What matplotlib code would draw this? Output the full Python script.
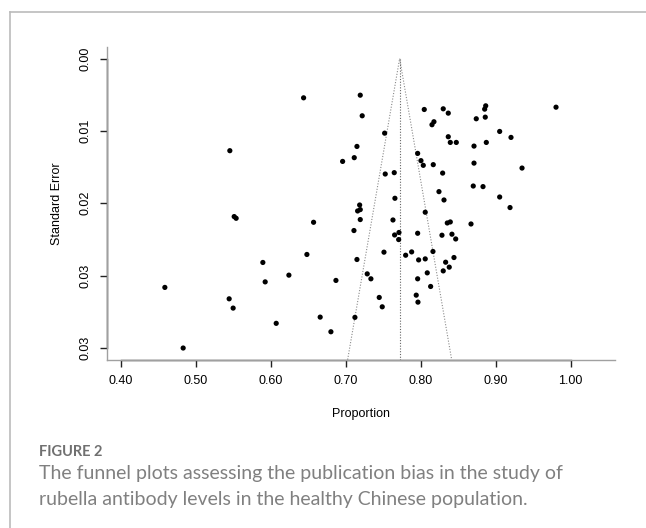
import matplotlib.pyplot as plt
from matplotlib.lines import Line2D

# proportions and standard errors
proportion = [0.644, 0.7195, 0.7221, 0.5457, 0.7151, 0.7115, 0.696, 0.7187,
              0.8048, 0.8301, 0.8368, 0.8867, 0.8853, 0.9804, 0.8177, 0.8151,
              0.8741, 0.8861, 0.752, 0.9053, 0.9204, 0.8368, 0.8395, 0.8475,
              0.8711, 0.8875, 0.796, 0.8004, 0.8035, 0.8168, 0.8711, 0.9351,
              0.7528, 0.7648, 0.8293, 0.8701, 0.8831, 0.8244, 0.7657, 0.8311,
              0.9053, 0.9191,
              0.716, 0.7195, 0.7195, 0.5515, 0.5541, 0.6573, 0.7111, 0.6484,
              0.5897, 0.7151, 0.7288, 0.7337, 0.4591, 0.5928, 0.6244, 0.6871,
              0.5448, 0.5501, 0.6661, 0.7124, 0.6075, 0.6804, 0.4835,
              0.8061, 0.7631, 0.8355, 0.8395, 0.8671, 0.7653, 0.7711, 0.7707,
              0.796, 0.8284, 0.8417, 0.8467, 0.7511, 0.78, 0.788, 0.8164,
              0.7973, 0.8061, 0.8444, 0.8333, 0.8381, 0.8301, 0.8088, 0.796,
              0.8133, 0.7448, 0.7941, 0.7964, 0.7488]
std_err = [0.00461, 0.0043, 0.00672, 0.01082, 0.01032, 0.01164, 0.01208, 0.0172,
           0.00598, 0.0059, 0.00641, 0.00555, 0.00594, 0.00571, 0.00742, 0.00777,
           0.00707, 0.00688, 0.00876, 0.00856, 0.00926, 0.00918, 0.00985, 0.00985,
           0.01028, 0.00985, 0.01114, 0.01199, 0.01254, 0.01246, 0.01228, 0.01286,
           0.01356, 0.0134, 0.01345, 0.01497, 0.01504, 0.01563, 0.01641, 0.01661,
           0.01626, 0.0175,
           0.0179, 0.01774, 0.01891, 0.01856, 0.01876, 0.01923, 0.0202, 0.02301,
           0.02395, 0.0236, 0.02529, 0.02587, 0.02688, 0.02623, 0.02544, 0.02606,
           0.02822, 0.02931, 0.03037, 0.0304, 0.0311, 0.03209, 0.034,
           0.01805, 0.01896, 0.01931, 0.01919, 0.01943, 0.02072, 0.02043, 0.02126,
           0.02052, 0.02075, 0.02063, 0.02119, 0.02274, 0.0231, 0.02271, 0.02266,
           0.02365, 0.02353, 0.02337, 0.02392, 0.0245, 0.02494, 0.02517, 0.02587,
           0.02677, 0.02806, 0.02779, 0.02861, 0.02916]

pooled = 0.772
se_ticks = [0.0, 0.0085, 0.017, 0.0255, 0.034]
se_labels = ["0.00", "0.01", "0.02", "0.03", "0.03"]
x_ticks = [0.4, 0.5, 0.6, 0.7, 0.8, 0.9, 1.0]
x_labels = ["0.40", "0.50", "0.60", "0.70", "0.80", "0.90", "1.00"]

plt.rcParams['font.family'] = ['Liberation Sans', 'DejaVu Sans']

fig = plt.figure(figsize=(6.46, 5.28), dpi=100)
ax = fig.add_axes([107 / 646, 1 - 359.6 / 528, 508 / 646, 312.6 / 528])

ymax = max(std_err)
ylo, yhi = -0.04 * ymax, ymax * 1.04
ax.set_xlim(0.382, 1.059)
ax.set_ylim(yhi, ylo)

# funnel
ax.plot([pooled - 1.96 * yhi, pooled, pooled + 1.96 * yhi], [yhi, 0, yhi],
        color='#8a8a8a', lw=0.8, ls=(0, (1, 1.5)))
ax.plot([pooled, pooled], [0, yhi], color='#666666', lw=0.8, ls=(0, (1, 1.5)))

ax.scatter(proportion, std_err, s=14, c='black', edgecolors='none', zorder=3)

for s in ['top', 'right']:
    ax.spines[s].set_visible(False)
for s in ['left', 'bottom']:
    ax.spines[s].set_color('#a0a0a0')
    ax.spines[s].set_linewidth(1)
# black axis segments over the tick range (R style)
ax.plot([x_ticks[0], x_ticks[-1]], [yhi, yhi], color='#222222', lw=1, clip_on=False)
ax.plot([0.382, 0.382], [se_ticks[0], se_ticks[-1]], color='#222222', lw=1, clip_on=False)

ax.set_xticks(x_ticks)
ax.set_xticklabels(x_labels)
ax.set_yticks(se_ticks)
ax.set_yticklabels(se_labels, rotation=90, va='center')
ax.tick_params(axis='both', direction='out', length=5, width=1, color='#222222',
               labelsize=9, pad=6)

ax.set_xlabel("Proportion", fontsize=9, labelpad=15)
ax.set_ylabel("Standard Error", fontsize=9, labelpad=12)

# page frame
fig.add_artist(Line2D([9.5 / 646, 1], [1 - 12.3 / 528, 1 - 12.3 / 528],
                      color='#bbbbbb', lw=1.2))
fig.add_artist(Line2D([9.5 / 646, 9.5 / 646], [0, 1 - 12.3 / 528],
                      color='#bbbbbb', lw=1.2))

fig.text(39 / 646, 1 - 452 / 528, "FIGURE 2", fontsize=10.5, color='#707070',
         family=['Lato', 'DejaVu Sans'], fontweight='bold', va='center')
fig.text(39 / 646, 1 - 474 / 528,
         "The funnel plots assessing the publication bias in the study of",
         fontsize=14, color='#808080', family=['Lato', 'DejaVu Sans'], va='center')
fig.text(39 / 646, 1 - 499 / 528,
         "rubella antibody levels in the healthy Chinese population.",
         fontsize=14, color='#808080', family=['Lato', 'DejaVu Sans'], va='center')

plt.savefig("out.png", dpi=100)
